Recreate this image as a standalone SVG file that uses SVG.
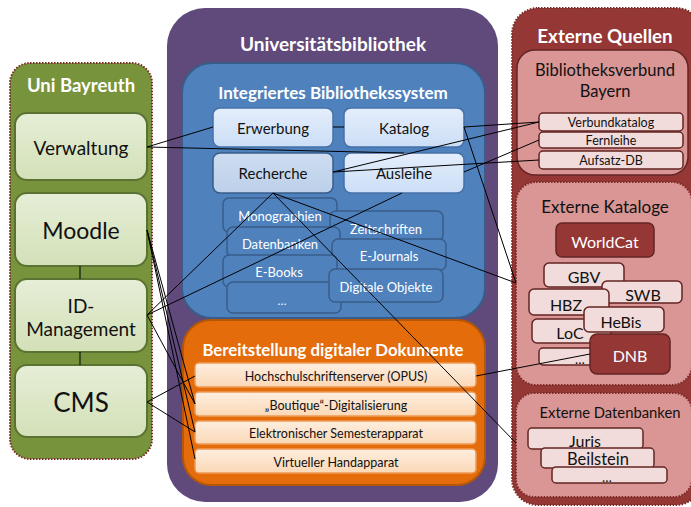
<svg xmlns="http://www.w3.org/2000/svg" width="691" height="507" viewBox="0 0 691 507">
<defs>
<linearGradient id="gGreen" x1="0" y1="0" x2="0" y2="1"><stop offset="0" stop-color="#E6EED6"/><stop offset="1" stop-color="#D3E0B8"/></linearGradient>
<linearGradient id="gBlueL" x1="0" y1="0" x2="0" y2="1"><stop offset="0" stop-color="#E4EEFC"/><stop offset="1" stop-color="#CCDEF6"/></linearGradient>
<linearGradient id="gBlueM" x1="0" y1="0" x2="0" y2="1"><stop offset="0" stop-color="#CFDDF0"/><stop offset="1" stop-color="#BCD0EA"/></linearGradient>
<linearGradient id="gOr" x1="0" y1="0" x2="0" y2="1"><stop offset="0" stop-color="#FEEEDF"/><stop offset="1" stop-color="#FBD8B6"/></linearGradient>
</defs>
<style>
text{font-family:Lato,"Liberation Sans",sans-serif;text-anchor:middle;dominant-baseline:central}
.tw{fill:#fff;font-weight:bold}
.tn{fill:#fff}
.tk{fill:#111}
.grn{fill:url(#gGreen);stroke:#5A7232;stroke-width:2}
.bl{fill:url(#gBlueL);stroke:#4570A8;stroke-width:1.5}
.bm{fill:url(#gBlueM);stroke:#385D8A;stroke-width:1.5}
.bs{fill:#4F81BD;stroke:#385D8A;stroke-width:1.5}
.or{fill:url(#gOr);stroke:#EE9A55;stroke-width:1.5}
.pk{fill:#F2DCDB;stroke:#632523;stroke-width:1.5}
.dr{fill:#953735;stroke:#632523;stroke-width:1.5}
.dot{stroke:#7A2A28;stroke-width:2;stroke-dasharray:1.5 1.5}
.c line{stroke:#000;stroke-width:1}
</style>

<g id="uni-bayreuth">
<rect x="10" y="63" width="142" height="396" rx="20" fill="#77933C" class="dot"/>
<text x="81" y="85" class="tw" font-size="18.5">Uni Bayreuth</text>
</g>
<g id="verwaltung"><rect x="15" y="113" width="132" height="67" rx="12" class="grn"/><text x="81" y="147" class="tk" font-size="19">Verwaltung</text></g>
<g id="moodle"><rect x="15" y="193" width="132" height="73" rx="12" class="grn"/><text x="81" y="230" class="tk" font-size="23">Moodle</text></g>
<g id="id-management"><rect x="15" y="279" width="132" height="73" rx="12" class="grn"/><text x="81" y="305" class="tk" font-size="19">ID-</text><text x="81" y="328" class="tk" font-size="19">Management</text></g>
<g id="cms"><rect x="15" y="365" width="132" height="72" rx="12" class="grn"/><text x="81" y="402" class="tk" font-size="26">CMS</text></g>

<g id="universitaetsbibliothek">
<rect x="167" y="8" width="331" height="494" rx="38" fill="#604A7B"/>
<text x="333" y="43" class="tw" font-size="19">Universitätsbibliothek</text>
</g>
<g id="ibs">
<rect x="182" y="63" width="303" height="255" rx="30" fill="#4F81BD" stroke="#385D8A" stroke-width="2"/>
<text x="333" y="92" class="tw" font-size="17">Integriertes Bibliothekssystem</text>
</g>
<g id="erwerbung"><rect x="213" y="108" width="120" height="39" rx="7" class="bl"/><text x="273" y="128" class="tk" font-size="15">Erwerbung</text></g>
<g id="katalog"><rect x="344" y="108" width="120" height="39" rx="7" class="bl"/><text x="404" y="128" class="tk" font-size="15">Katalog</text></g>
<g id="recherche"><rect x="213" y="153" width="120" height="40" rx="7" class="bm"/><text x="273" y="173" class="tk" font-size="15">Recherche</text></g>
<g id="ausleihe"><rect x="344" y="153" width="120" height="40" rx="7" class="bl"/><text x="404" y="173" class="tk" font-size="15">Ausleihe</text></g>

<g id="monographien"><rect x="223" y="198" width="114" height="34" rx="6" class="bs"/><text x="280" y="216" class="tn" font-size="13">Monographien</text></g>
<g id="zeitschriften"><rect x="330" y="211" width="113" height="30" rx="6" class="bs"/><text x="386" y="229" class="tn" font-size="13">Zeitschriften</text></g>
<g id="datenbanken"><rect x="227" y="227" width="113" height="30" rx="6" class="bs"/><text x="280" y="244" class="tn" font-size="13">Datenbanken</text></g>
<g id="e-journals"><rect x="332" y="239" width="114" height="31" rx="6" class="bs"/><text x="389" y="256" class="tn" font-size="13">E-Journals</text></g>
<g id="e-books"><rect x="223" y="255" width="114" height="32" rx="6" class="bs"/><text x="279" y="272" class="tn" font-size="13">E-Books</text></g>
<g id="ibs-more"><rect x="227" y="282" width="114" height="31" rx="6" class="bs"/><text x="282" y="300" class="tn" font-size="12">…</text></g>
<g id="digitale-objekte"><rect x="329" y="269" width="114" height="33" rx="6" class="bs"/><text x="386" y="287" class="tn" font-size="13">Digitale Objekte</text></g>

<g id="bereitstellung">
<rect x="183" y="320" width="302" height="165" rx="28" fill="#E46C0A" stroke="#B65708" stroke-width="2"/>
<text x="333" y="349" class="tw" font-size="16.8">Bereitstellung digitaler Dokumente</text>
</g>
<g id="opus"><rect x="195" y="363" width="281" height="24" rx="4" class="or"/><text x="336" y="376" class="tk" font-size="12.5">Hochschulschriftenserver (OPUS)</text></g>
<g id="boutique"><rect x="195" y="392" width="281" height="24" rx="4" class="or"/><text x="336" y="405" class="tk" font-size="12.5">„Boutique“-Digitalisierung</text></g>
<g id="semesterapparat"><rect x="195" y="421" width="281" height="23" rx="4" class="or"/><text x="336" y="433" class="tk" font-size="12.5">Elektronischer Semesterapparat</text></g>
<g id="handapparat"><rect x="195" y="449" width="281" height="24" rx="4" class="or"/><text x="336" y="462" class="tk" font-size="12.5">Virtueller Handapparat</text></g>

<g id="externe-quellen">
<rect x="512" y="8" width="190" height="497" rx="26" fill="#953735" class="dot"/>
<text x="605" y="35" class="tw" font-size="18.8">Externe Quellen</text>
</g>
<g id="bvb">
<rect x="517" y="50" width="171" height="125" rx="18" fill="#D99694" stroke="#632523" stroke-width="1.5"/>
<text x="605" y="70" class="tk" font-size="16.5">Bibliotheksverbund</text>
<text x="605" y="91" class="tk" font-size="16.5">Bayern</text>
</g>
<g id="verbundkatalog"><rect x="539" y="113" width="144" height="18" rx="4" class="pk"/><text x="611" y="122.5" class="tk" font-size="12.5">Verbundkatalog</text></g>
<g id="fernleihe"><rect x="539" y="132" width="144" height="16" rx="4" class="pk"/><text x="611" y="140.5" class="tk" font-size="12.5">Fernleihe</text></g>
<g id="aufsatz-db"><rect x="539" y="151" width="144" height="18" rx="4" class="pk"/><text x="611" y="160.5" class="tk" font-size="12.5">Aufsatz-DB</text></g>

<g id="externe-kataloge">
<rect x="516" y="182" width="176" height="203" rx="20" fill="#D99694" class="dot"/>
<text x="605" y="206" class="tk" font-size="17">Externe Kataloge</text>
</g>
<g id="worldcat"><rect x="556" y="223" width="98" height="34" rx="6" class="dr"/><text x="605" y="241" fill="#fff" font-size="16">WorldCat</text></g>
<g id="gbv"><rect x="544" y="263" width="80" height="24" rx="5" class="pk"/><text x="584" y="276" class="tk" font-size="16">GBV</text></g>
<g id="swb"><rect x="602" y="281" width="80" height="22" rx="5" class="pk"/><text x="643" y="294" class="tk" font-size="16">SWB</text></g>
<g id="hbz"><rect x="529" y="289" width="80" height="26" rx="5" class="pk"/><text x="566" y="304" class="tk" font-size="16">HBZ</text></g>
<g id="loc"><rect x="532" y="319" width="79" height="24" rx="5" class="pk"/><text x="570" y="332" class="tk" font-size="16">LoC</text></g>
<g id="hebis"><rect x="584" y="307" width="80" height="25" rx="5" class="pk"/><text x="621" y="321" class="tk" font-size="16">HeBis</text></g>
<g id="kat-more"><rect x="539" y="348" width="70" height="17" rx="4" class="pk"/><text x="580" y="359" class="tk" font-size="13">…</text></g>
<g id="dnb"><rect x="590" y="334" width="80" height="40" rx="7" class="dr"/><text x="630" y="355" fill="#fff" font-size="16">DNB</text></g>

<g id="externe-datenbanken">
<rect x="516" y="393" width="176" height="104" rx="18" fill="#D99694" class="dot"/>
<text x="610" y="412" class="tk" font-size="14.8">Externe Datenbanken</text>
</g>
<g id="juris"><rect x="528" y="428" width="115" height="21" rx="4" class="pk"/><text x="585" y="440" class="tk" font-size="16">Juris</text></g>
<g id="beilstein"><rect x="541" y="448" width="113" height="20" rx="4" class="pk"/><text x="598" y="459" class="tk" font-size="16.5">Beilstein</text></g>
<g id="db-more"><rect x="552" y="467" width="115" height="16" rx="4" class="pk"/><text x="607" y="477" class="tk" font-size="13">…</text></g>

<g id="connectors" class="c">
<line x1="80" y1="266" x2="80" y2="279"/>
<line x1="80" y1="352" x2="80" y2="365"/>
<line x1="147" y1="147" x2="213" y2="127"/>
<line x1="147" y1="147" x2="404" y2="153"/>
<line x1="333" y1="127" x2="344" y2="127"/>
<line x1="464" y1="127" x2="539" y2="122"/>
<line x1="333" y1="172" x2="539" y2="122"/>
<line x1="333" y1="172" x2="539" y2="160"/>
<line x1="464" y1="172" x2="539" y2="140"/>
<line x1="464" y1="127" x2="516" y2="283"/>
<line x1="273" y1="193" x2="516" y2="283"/>
<line x1="273" y1="193" x2="516" y2="443"/>
<line x1="273" y1="193" x2="147" y2="315"/>
<line x1="402" y1="193" x2="147" y2="315"/>
<line x1="147" y1="230" x2="195" y2="404"/>
<line x1="147" y1="230" x2="195" y2="432"/>
<line x1="147" y1="230" x2="195" y2="459"/>
<line x1="147" y1="315" x2="195" y2="404"/>
<line x1="147" y1="402" x2="195" y2="376"/>
<line x1="147" y1="402" x2="195" y2="432"/>
<line x1="476" y1="376" x2="590" y2="354"/>
</g>
</svg>
